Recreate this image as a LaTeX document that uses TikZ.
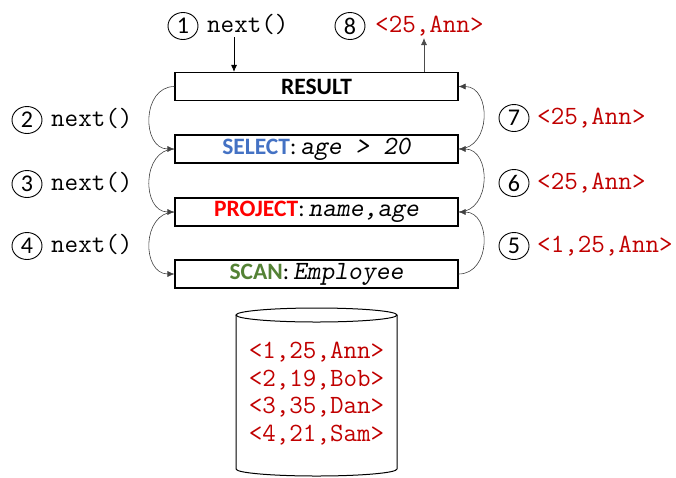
\documentclass[tikz,border=0pt]{standalone}
\usepackage{fontspec}
\setmainfont{Carlito}
\usetikzlibrary{arrows.meta,shapes.geometric}
\definecolor{dred}{HTML}{C00000}
\definecolor{sblue}{HTML}{4472C4}
\definecolor{pred}{HTML}{FF0000}
\definecolor{sgreen}{HTML}{548235}
\newcommand{\codefont}{\ttfamily\fontsize{26.3}{30}\selectfont}
\newcommand{\codesl}[1]{{\codefont\slshape #1}}
\begin{document}
\begin{tikzpicture}[x=1pt,y=-1pt,
  opbox/.style={draw, line width=1.1pt, minimum width=283pt, minimum height=28pt, inner sep=0pt, font=\fontsize{23.5}{26}\selectfont},
  num/.style={ellipse, draw, line width=0.9pt, minimum width=30pt, minimum height=27pt, inner sep=0pt, font=\fontsize{24}{26}\selectfont},
  code/.style={anchor=west, inner sep=0pt, text height=13pt, text depth=0pt, font=\codefont},
  res/.style={code, text=dred},
  arc/.style={draw=black!75, line width=0.6pt, -{Latex[length=7pt,width=6pt]}},
  vline/.style={line width=0.8pt, -{Latex[length=7pt,width=6pt]}}
]
\useasboundingbox (0,0) rectangle (676,477);

% operator boxes
\node[opbox] (res) at (316.5,86.5) {\textbf{RESULT}};
\node[opbox] (sel) at (316.5,149) {\textbf{\color{sblue}SELECT}:\,\codesl{age > 20}};
\node[opbox] (proj) at (316.5,212) {\textbf{\color{pred}PROJECT}:\,\codesl{name,age}};
\node[opbox] (scan) at (316.5,274) {\textbf{\color{sgreen}SCAN}:\,\codesl{Employee}};

% top labels
\node[num] (n1) at (183,26) {1};
\node[code] (t1) at (207,26) {next()};
\node[num] (n8) at (350,26) {8};
\node[res] (t8) at (375,26) {<25,Ann>};
\coordinate (a1) at (234,37);
\coordinate (a8) at (424,38);
\draw[vline] (a1) -- (a1 |- res.north);
\draw[vline, draw=black!70] (a8 |- res.north) -- (a8);

% left labels
\node[num] (n2) at (27,120) {2};
\node[code] (t2) at (51,120) {next()};
\node[num] (n3) at (27,184) {3};
\node[code] (t3) at (51,184) {next()};
\node[num] (n4) at (27,246) {4};
\node[code] (t4) at (51,246) {next()};

% right labels
\node[num] (n7) at (514,118) {7};
\node[res] (t7) at (537,118) {<25,Ann>};
\node[num] (n6) at (514,183) {6};
\node[res] (t6) at (537,183) {<25,Ann>};
\node[num] (n5) at (514,246) {5};
\node[res] (t5) at (537,246) {<1,25,Ann>};

% left arcs (calls)
\draw[arc] (res.west) .. controls +(-33,0) and +(-33,0) .. (sel.west);
\draw[arc] (sel.west) .. controls +(-33,0) and +(-33,0) .. (proj.west);
\draw[arc] (proj.west) .. controls +(-33,0) and +(-33,0) .. (scan.west);

% right arcs (returns)
\draw[arc] (scan.east) .. controls +(33,0) and +(33,0) .. (proj.east);
\draw[arc] (proj.east) .. controls +(33,0) and +(33,0) .. (sel.east);
\draw[arc] (sel.east) .. controls +(33,0) and +(33,0) .. (res.east);

% database cylinder
\draw[line width=1pt] (316.5,315) ellipse [x radius=80.5, y radius=7];
\draw[line width=1pt] (236,315) -- (236,469) arc[start angle=180, end angle=0, x radius=80.5, y radius=7] -- (397,315);
\node[font=\codefont\fontsize{26.3}{27.7}\selectfont, text=dred, align=left, inner sep=0pt] (db) at (316.5,393.5)
  {<1,25,Ann>\\<2,19,Bob>\\<3,35,Dan>\\<4,21,Sam>};
\end{tikzpicture}
\end{document}
